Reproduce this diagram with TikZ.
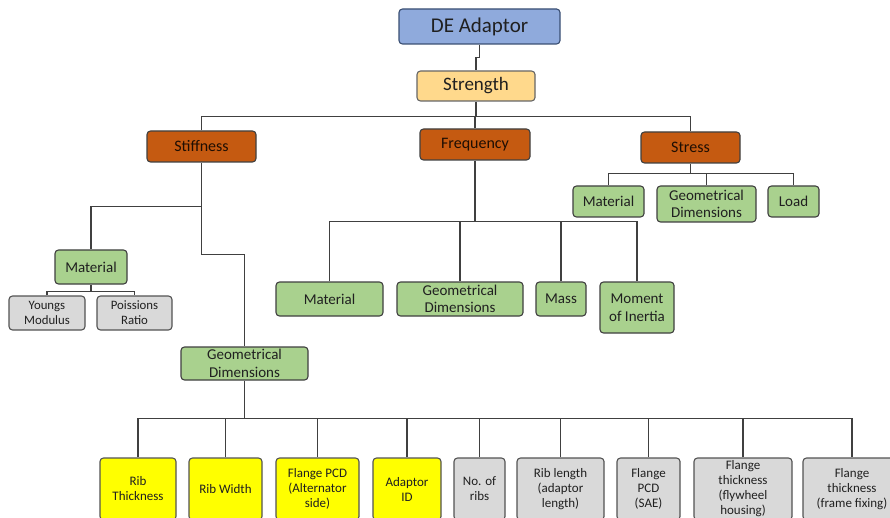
\documentclass[tikz,border=0pt]{standalone}
\usepackage{fontspec}
\setmainfont{Carlito}
\definecolor{blueF}{HTML}{8FAADC}
\definecolor{blueD}{HTML}{3A4F73}
\definecolor{strF}{HTML}{FFD98C}
\definecolor{orgF}{HTML}{C55A11}
\definecolor{grnF}{HTML}{A9D18E}
\definecolor{gryF}{HTML}{D9D9D9}
\definecolor{ylwF}{HTML}{FFFF00}
\definecolor{lineC}{HTML}{404040}
\definecolor{txtC}{HTML}{202020}
\begin{document}
\begin{tikzpicture}[x=1pt,y=-1pt,
  box/.style={draw=lineC,line width=1.1pt,rounded corners=3.5pt,inner sep=0pt,align=center,text=txtC},
  bluebox/.style={box,fill=blueF,draw=blueD,font=\fontsize{21}{24}\selectfont},
  strbox/.style={box,fill=strF,draw=lineC!80,font=\fontsize{19}{22}\selectfont},
  orgbox/.style={box,fill=orgF,text=black!85!orgF,font=\fontsize{16}{19}\selectfont},
  grnbox/.style={box,fill=grnF,draw=lineC,font=\fontsize{15}{17.5}\selectfont},
  grybox/.style={box,fill=gryF,draw=lineC!90,font=\fontsize{12.8}{15}\selectfont},
  botgry/.style={box,fill=gryF,draw=lineC!90,font=\fontsize{13}{15}\selectfont,minimum height=62pt},
  botylw/.style={box,fill=ylwF,draw=lineC!90,font=\fontsize{13}{15}\selectfont,minimum height=62pt},
  conn/.style={draw=lineC,line width=1.1pt}]
\useasboundingbox (0,0) rectangle (890,518);
\clip (0,0) rectangle (890,518);
\fill[white] (0,0) rectangle (890,518);
% top
\node[bluebox,minimum width=161pt,minimum height=35pt] (de) at (479.5,26.5) {DE Adaptor};
\node[strbox,minimum width=118pt,minimum height=30pt] (str) at (476,86) {Strength};
\node[orgbox,minimum width=109pt,minimum height=31pt] (stf) at (201.5,146.5) {Stiffness};
\node[orgbox,minimum width=110pt,minimum height=31pt] (frq) at (475,144.5) {Frequency};
\node[orgbox,minimum width=99pt,minimum height=31pt] (sts) at (690.5,147.5) {Stress};
% stress children
\node[grnbox,minimum width=71pt,minimum height=31pt] (smat) at (608.5,201.5) {Material};
\node[grnbox,minimum width=99pt,minimum height=36pt] (sgeo) at (706.5,204) {Geometrical\\Dimensions};
\node[grnbox,minimum width=51pt,minimum height=31pt] (sload) at (793.5,201.5) {Load};
% stiffness children
\node[grnbox,minimum width=72pt,minimum height=34pt] (lmat) at (91,267) {Material};
\node[grybox,minimum width=76pt,minimum height=34pt] (young) at (47,313) {Youngs\\Modulus};
\node[grybox,minimum width=75pt,minimum height=34pt] (poi) at (134.5,313) {Poissions\\Ratio};
\node[grnbox,minimum width=127pt,minimum height=33pt] (lgeo) at (244.5,363.5) {Geometrical\\Dimensions};
% frequency children
\node[grnbox,minimum width=107pt,minimum height=34pt] (fmat) at (329.5,299) {Material};
\node[grnbox,minimum width=126pt,minimum height=34pt] (fgeo) at (460,299) {Geometrical\\Dimensions};
\node[grnbox,minimum width=50pt,minimum height=34pt] (mass) at (561,299) {Mass};
\node[grnbox,minimum width=74pt,minimum height=51pt] (moi) at (637,307.5) {Moment\\of Inertia};
% bottom row
\node[botylw,minimum width=76pt] (b1) at (138,489) {Rib\\Thickness};
\node[botylw,minimum width=73pt] (b2) at (225.5,489) {Rib Width};
\node[botylw,minimum width=83pt] (b3) at (317.5,489) {Flange PCD\\(Alternator\\side)};
\node[botylw,minimum width=68pt] (b4) at (407,489) {Adaptor\\ID};
\node[botgry,minimum width=51pt] (b5) at (479.5,489) {No. of\\ribs};
\node[botgry,minimum width=87pt] (b6) at (560.5,489) {Rib length\\(adaptor\\length)};
\node[botgry,minimum width=63pt] (b7) at (648.5,489) {Flange\\PCD\\(SAE)};
\node[botgry,minimum width=98pt] (b8) at (743,489) {Flange\\thickness\\(flywheel\\housing)};
\node[botgry,minimum width=98pt] (b9) at (852,489) {Flange\\thickness\\(frame fixing)};
% connectors
\draw[conn] (de.south) -- ++(0,13) -| (str.north);
\draw[conn] (str.south) -- ++(0,15) coordinate (tj);
\draw[conn] (stf.north) |- (tj) -| (sts.north);
\draw[conn] (frq.north) -- (frq.north |- tj);
\draw[conn] (sts.south) -- ++(0,10) coordinate (sj);
\draw[conn] (smat.north) |- (sj) -| (sload.north);
\draw[conn] (sgeo.north) -- (sgeo.north |- sj);
\draw[conn] (stf.south) -- ++(0,92) -| (lgeo.north);
\draw[conn] (stf.south) ++(0,44) -| (lmat.north);
\draw[conn] (lmat.south) -- ++(0,7) coordinate (lj);
\draw[conn] (young.north) |- (lj) -| (poi.north);
\draw[conn] (frq.south) -- ++(0,61) coordinate (fj);
\draw[conn] (fmat.north) |- (fj) -| (moi.north);
\draw[conn] (fgeo.north) -- (fgeo.north |- fj);
\draw[conn] (mass.north) -- (mass.north |- fj);
\draw[conn] (lgeo.south) -- ++(0,38) coordinate (bj);
\draw[conn] (b1.north) |- (bj) -| (b9.north);
\foreach \n in {b2,b3,b4,b5,b6,b7,b8} \draw[conn] (\n.north) -- (\n.north |- bj);
\end{tikzpicture}
\end{document}
